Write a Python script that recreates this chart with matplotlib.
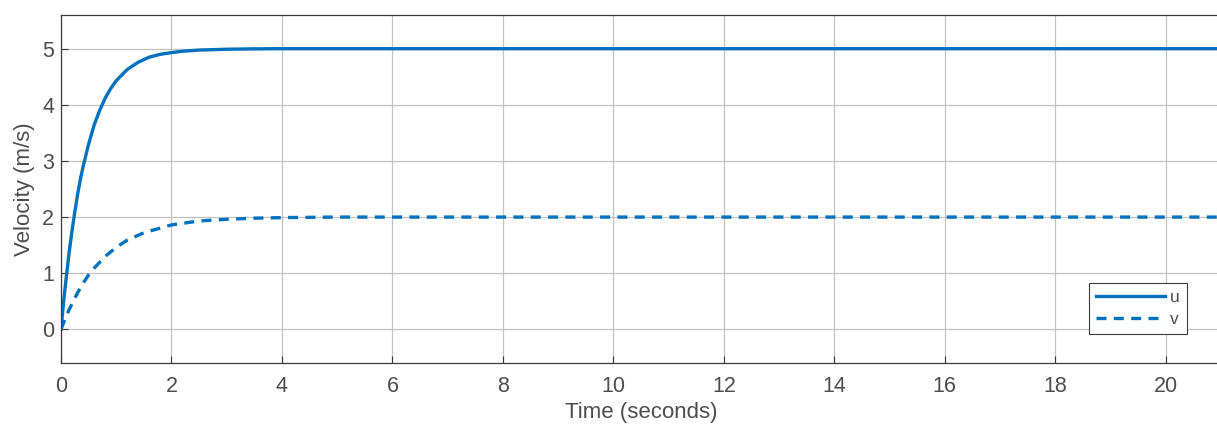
import matplotlib.pyplot as plt

# sampled velocity responses (seconds, m/s)
t_u = [0, 0.05, 0.1, 0.15, 0.2, 0.25, 0.3, 0.35, 0.4, 0.5, 0.6, 0.7, 0.8, 0.9,
       1.0, 1.2, 1.4, 1.6, 1.8, 2.0, 2.2, 2.5, 3.0, 3.5, 4.0, 21.0]
u = [0, 0.52, 0.97, 1.39, 1.76, 2.09, 2.40, 2.67, 2.90, 3.30, 3.64, 3.90, 4.12, 4.29,
     4.43, 4.63, 4.76, 4.85, 4.90, 4.93, 4.955, 4.975, 4.99, 4.997, 5.0, 5.0]

t_v = [0, 0.1, 0.2, 0.3, 0.4, 0.5, 0.6, 0.8, 1.0, 1.2, 1.5, 2.0, 2.5, 3.0, 3.5,
       4.0, 5.0, 21.0]
v = [0, 0.25, 0.46, 0.65, 0.82, 0.97, 1.09, 1.30, 1.46, 1.59, 1.72, 1.86, 1.93, 1.96,
     1.98, 1.99, 2.0, 2.0]

xticks = list(range(0, 21, 2))
yticks = [0, 1, 2, 3, 4, 5]

plt.rcParams['font.family'] = ['Liberation Sans', 'DejaVu Sans']

blue = '#0072BD'
text_grey = '#4d4d4d'
axis_grey = '#3a3a3a'

fig = plt.figure(figsize=(12.17, 4.28), dpi=100)
ax = fig.add_axes([61 / 1217, 1 - 363 / 428, 1160 / 1217, 348 / 428])

ax.plot(t_u, u, color=blue, linewidth=2.4, label='u')
ax.plot(t_v, v, color=blue, linewidth=2.4, linestyle=(0, (3, 2.2)), label='v')

ax.set_xlim(0, 21)
ax.set_ylim(-0.6, 5.6)
ax.set_xticks(xticks)
ax.set_yticks(yticks)
ax.grid(True, color='#c2c2c2', linewidth=0.9)
ax.set_axisbelow(True)
ax.tick_params(direction='in', length=5, width=0.8, colors=axis_grey,
               labelcolor=text_grey, labelsize=15.5)
ax.tick_params(axis='x', pad=9)
ax.tick_params(axis='y', pad=5)
for s in ax.spines.values():
    s.set_color(axis_grey)
    s.set_linewidth(0.9)

ax.set_xlabel('Time (seconds)', fontsize=16, color=text_grey, labelpad=4)
ax.set_ylabel('Velocity (m/s)', fontsize=16, color=text_grey, labelpad=5)

# legend box: right edge ~1187 px, bottom ~334 px
leg = ax.legend(loc='lower right', bbox_to_anchor=(1187 / 1217, 1 - 334 / 428),
                bbox_transform=fig.transFigure, fontsize=12.5, handlelength=4.0,
                fancybox=False, framealpha=1, borderpad=0.4, labelspacing=0.4,
                handletextpad=0.3, borderaxespad=0)
leg.get_frame().set_edgecolor(axis_grey)
leg.get_frame().set_linewidth(0.8)
for txt in leg.get_texts():
    txt.set_color(text_grey)

fig.savefig('out.png', dpi=100)
